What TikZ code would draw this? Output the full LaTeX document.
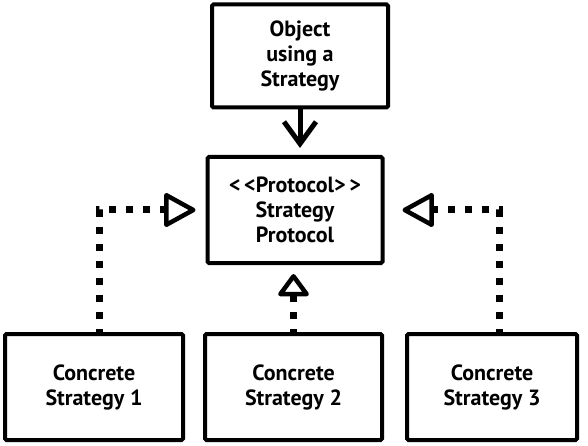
\documentclass[tikz,border=0pt]{standalone}
\usepackage{fontspec}
\setmainfont{PT Sans}
\usetikzlibrary{arrows.meta}

\tikzset{
  box/.style={draw, line width=4pt, rounded corners=1.5pt, inner sep=0pt,
    align=center, font=\fontsize{22}{25}\selectfont\bfseries},
  realise/.style={line width=7pt, dash pattern=on 7pt off 10pt,
    -{Triangle[open, length=34pt, width=36pt, line width=4.5pt, round]}},
  realisesmall/.style={line width=7pt, dash pattern=on 7pt off 10pt,
    -{Triangle[open, length=24pt, width=34pt, line width=4.5pt, round]}},
  uses/.style={line width=5pt, -{Straight Barb[length=22pt, width=32pt, line width=5pt]}}
}

\begin{document}
\begin{tikzpicture}[x=1pt, y=-1pt]
\useasboundingbox (0,0) rectangle (588,446);

\node[box, minimum width=176pt, minimum height=103pt](obj) at (300, 56) {Object\\using a\\Strategy};
\node[box, minimum width=175pt, minimum height=106pt](proto) at (295, 210) {<\,<Protocol>\,>\\Strategy\\Protocol};

\node[box, minimum width=178pt, minimum height=106pt](c1) at (94, 387) {Concrete\\Strategy 1};
\node[box, minimum width=177pt, minimum height=106pt](c2) at (293.5, 387) {Concrete\\Strategy 2};
\node[box, minimum width=170pt, minimum height=106pt](c3) at (492, 387) {Concrete\\Strategy 3};

\draw[uses, shorten >=7pt] (obj.south) -- (obj.south |- proto.north);

\draw[realise, shorten >=10pt] ([xshift=5pt, yshift=-4pt]c1.north) |- (proto.west);
\draw[realisesmall, shorten >=9pt] ([yshift=-4pt]c2.north) -- (c2.north |- proto.south);
\draw[realise, shorten >=18pt] ([xshift=7pt, yshift=-4pt]c3.north) |- (proto.east);

\end{tikzpicture}
\end{document}
